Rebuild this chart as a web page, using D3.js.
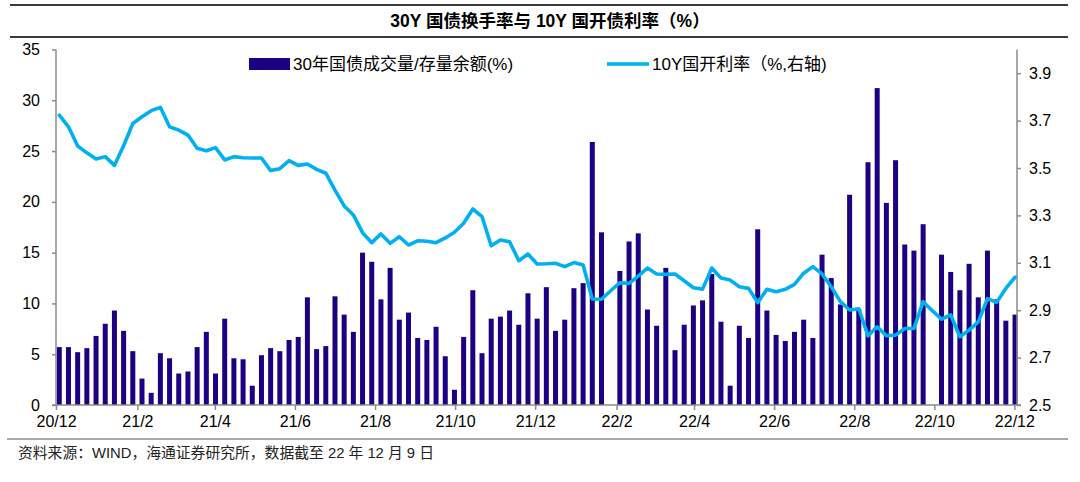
<!DOCTYPE html>
<html>
<head>
<meta charset="utf-8">
<script src="https://cdn.jsdelivr.net/npm/d3@7"></script>
<style>
  body { margin: 0; background: #fff; }
  svg { display: block; font-family: "Liberation Sans", Arial, "Noto Sans CJK SC", sans-serif; }
</style>
</head>
<body>
<div id="chart"></div>
<script>
// 30Y国债成交量/存量余额(%)，每周一个值（null = 当周无数据）
const turnover = [
  5.7, 5.7, 5.2, 5.6, 6.8, 8.0, 9.3, 7.3, 5.3, 2.6, 1.2, 5.1, 4.6, 3.1, 3.3, 5.7, 7.2, 3.1, 8.5, 4.6, 4.5, 1.9, 4.9, 5.6, 5.3, 6.4, 6.7,
  10.6, 5.5, 5.8, 10.7, 8.9, 7.2, 15.0, 14.1, 10.4, 13.5, 8.4, 9.1, 6.6, 6.4, 7.7, 4.8, 1.5, 6.7, 11.3, 5.1, 8.5, 8.7, 9.3, 7.9, 11.0, 8.5, 11.6,
  7.3, 8.4, 11.5, 12.0, 25.9, 17.0, null, 13.2, 16.1, 16.9, 9.4, 7.8, 13.5, 5.4, 7.9, 9.8, 10.3, 12.9, 8.2, 1.9, 7.8, 6.6, 17.3, 9.3, 6.9, 6.3, 7.2,
  8.4, 6.6, 14.8, 12.5, 9.9, 20.7, 9.4, 23.9, 31.2, 19.9, 24.1, 15.8, 15.2, 17.8, null, 14.8, 13.1, 11.3, 13.9, 10.6, 15.2, 10.4, 8.3, 8.9
];

// 10Y国开利率(%)，右轴
const yield10y = [
  3.723, 3.674, 3.593, 3.564, 3.538, 3.548, 3.511, 3.594, 3.688, 3.716, 3.742, 3.756, 3.674, 3.660, 3.639, 3.583, 3.573, 3.586, 3.534, 3.548, 3.543, 3.542, 3.542, 3.489, 3.497, 3.531, 3.511,
  3.517, 3.494, 3.478, 3.407, 3.340, 3.302, 3.227, 3.185, 3.222, 3.182, 3.210, 3.175, 3.193, 3.191, 3.185, 3.205, 3.229, 3.267, 3.327, 3.295, 3.172, 3.196, 3.189, 3.109, 3.137, 3.095, 3.096,
  3.098, 3.084, 3.101, 3.091, 2.947, 2.946, 2.982, 3.016, 3.013, 3.044, 3.078, 3.053, 3.051, 3.053, 3.024, 2.995, 2.989, 3.078, 3.036, 3.027, 2.999, 2.992, 2.932, 2.988, 2.978, 2.988, 3.009,
  3.056, 3.084, 3.053, 2.999, 2.936, 2.901, 2.906, 2.792, 2.830, 2.792, 2.795, 2.823, 2.823, 2.936, 2.898, 2.862, 2.880, 2.788, 2.816, 2.851, 2.949, 2.933, 2.992, 3.039
];

// 周度日期：第一期 2020-12-03，之后每 7 天一期
const firstWeek = new Date(2020, 11, 3, 12);
const weeks = turnover.map((_, i) => d3.timeDay.offset(firstWeek, 7 * i));

const xTickLabels = ["20/12", "21/2", "21/4", "21/6", "21/8", "21/10", "21/12", "22/2", "22/4", "22/6", "22/8", "22/10", "22/12"];
const leftTicks = [0, 5, 10, 15, 20, 25, 30, 35];
const rightTicks = [2.5, 2.7, 2.9, 3.1, 3.3, 3.5, 3.7, 3.9];

const title = "30Y 国债换手率与 10Y 国开债利率（%）";
const barName = "30年国债成交量/存量余额(%)";
const lineName = "10Y国开利率（%,右轴)";
const source = "资料来源：WIND，海通证券研究所，数据截至 22 年 12 月 9 日";

const width = 1080, height = 482;
const plot = { left: 56, right: 1017, top: 49.5, bottom: 405 };
const barColor = "#1e0082", lineColor = "#00b0f0", axisColor = "#8c8c8c";

const svg = d3.select("#chart").append("svg")
  .attr("width", width)
  .attr("height", height);

// 标题和分隔线
svg.append("line").attr("x1", 10).attr("x2", 1068).attr("y1", 5).attr("y2", 5)
  .attr("stroke", "#3a3a3a").attr("stroke-width", 2);
svg.append("text")
  .attr("x", 550).attr("y", 21)
  .attr("text-anchor", "middle").attr("dominant-baseline", "central")
  .attr("font-size", 17.5).attr("font-weight", "bold")
  .text(title);
svg.append("line").attr("x1", 10).attr("x2", 1068).attr("y1", 37).attr("y2", 37)
  .attr("stroke", "#3a3a3a").attr("stroke-width", 2);

// 比例尺
const x = d3.scaleTime()
  .domain([new Date(2020, 11, 1), new Date(2022, 11, 3)])
  .range([plot.left, plot.right]);
const yL = d3.scaleLinear().domain([0, 35]).range([plot.bottom, plot.top]);
const yR = d3.scaleLinear().domain([2.5, 4.0]).range([plot.bottom, plot.top]);

// 每两个月一个刻度
const xTicks = d3.timeMonth.range(new Date(2020, 11, 1), new Date(2022, 11, 2), 2);

// 柱子
svg.append("g")
  .selectAll("rect")
  .data(weeks.map((d, i) => ({ date: d, v: turnover[i] })).filter(d => d.v != null))
  .join("rect")
    .attr("x", d => x(d.date) - 2.5)
    .attr("width", 5)
    .attr("y", d => yL(d.v))
    .attr("height", d => yL(0) - yL(d.v))
    .attr("fill", barColor);

// 坐标轴
const axisL = svg.append("g")
  .attr("transform", `translate(${plot.left},0)`)
  .call(d3.axisLeft(yL).tickValues(leftTicks).tickSize(4).tickPadding(12));
const axisR = svg.append("g")
  .attr("transform", `translate(${plot.right},0)`)
  .call(d3.axisRight(yR).tickValues(rightTicks).tickSize(4).tickPadding(8).tickFormat(d3.format(".1f")));
const axisB = svg.append("g")
  .attr("transform", `translate(0,${plot.bottom})`)
  .call(d3.axisBottom(x).tickValues(xTicks).tickSize(5).tickPadding(6)
    .tickFormat((d, i) => xTickLabels[i]));

[axisL, axisR, axisB].forEach(g => {
  g.select(".domain").attr("stroke", axisColor).attr("stroke-width", 1.5);
  g.selectAll(".tick line").attr("stroke", axisColor).attr("stroke-width", 1.5);
  g.selectAll(".tick text").attr("font-size", 16).attr("fill", "#000")
    .attr("font-family", "Liberation Sans, Arial, sans-serif");
});
axisR.select(".domain").attr("d", `M4,${plot.bottom}H0V${plot.top}`);
axisL.select(".domain").attr("d", `M-4,${plot.bottom}H0V${plot.top}`);
axisB.select(".domain").attr("d", `M${plot.left},0H${plot.right}`);

// 折线
const line = d3.line()
  .x((d, i) => x(weeks[i]))
  .y(d => yR(d));
svg.append("path")
  .datum(yield10y)
  .attr("d", line)
  .attr("fill", "none")
  .attr("stroke", lineColor)
  .attr("stroke-width", 3.6)
  .attr("stroke-linejoin", "round")
  .attr("stroke-linecap", "round");

// 图例
const legend = svg.append("g").attr("font-size", 17);
legend.append("rect").attr("x", 249).attr("y", 58).attr("width", 41).attr("height", 12).attr("fill", barColor);
legend.append("text").attr("x", 293).attr("y", 64).attr("dominant-baseline", "central").text(barName);
legend.append("line").attr("x1", 607).attr("x2", 649).attr("y1", 64).attr("y2", 64)
  .attr("stroke", lineColor).attr("stroke-width", 3.6);
legend.append("text").attr("x", 652).attr("y", 64).attr("dominant-baseline", "central").text(lineName);

// 底部来源
svg.append("line").attr("x1", 7).attr("x2", 1068).attr("y1", 439).attr("y2", 439)
  .attr("stroke", "#8a8a8a").attr("stroke-width", 1.5);
svg.append("text")
  .attr("x", 18).attr("y", 453)
  .attr("dominant-baseline", "central")
  .attr("font-size", 14.8).attr("fill", "#222")
  .text(source);
</script>
</body>
</html>
